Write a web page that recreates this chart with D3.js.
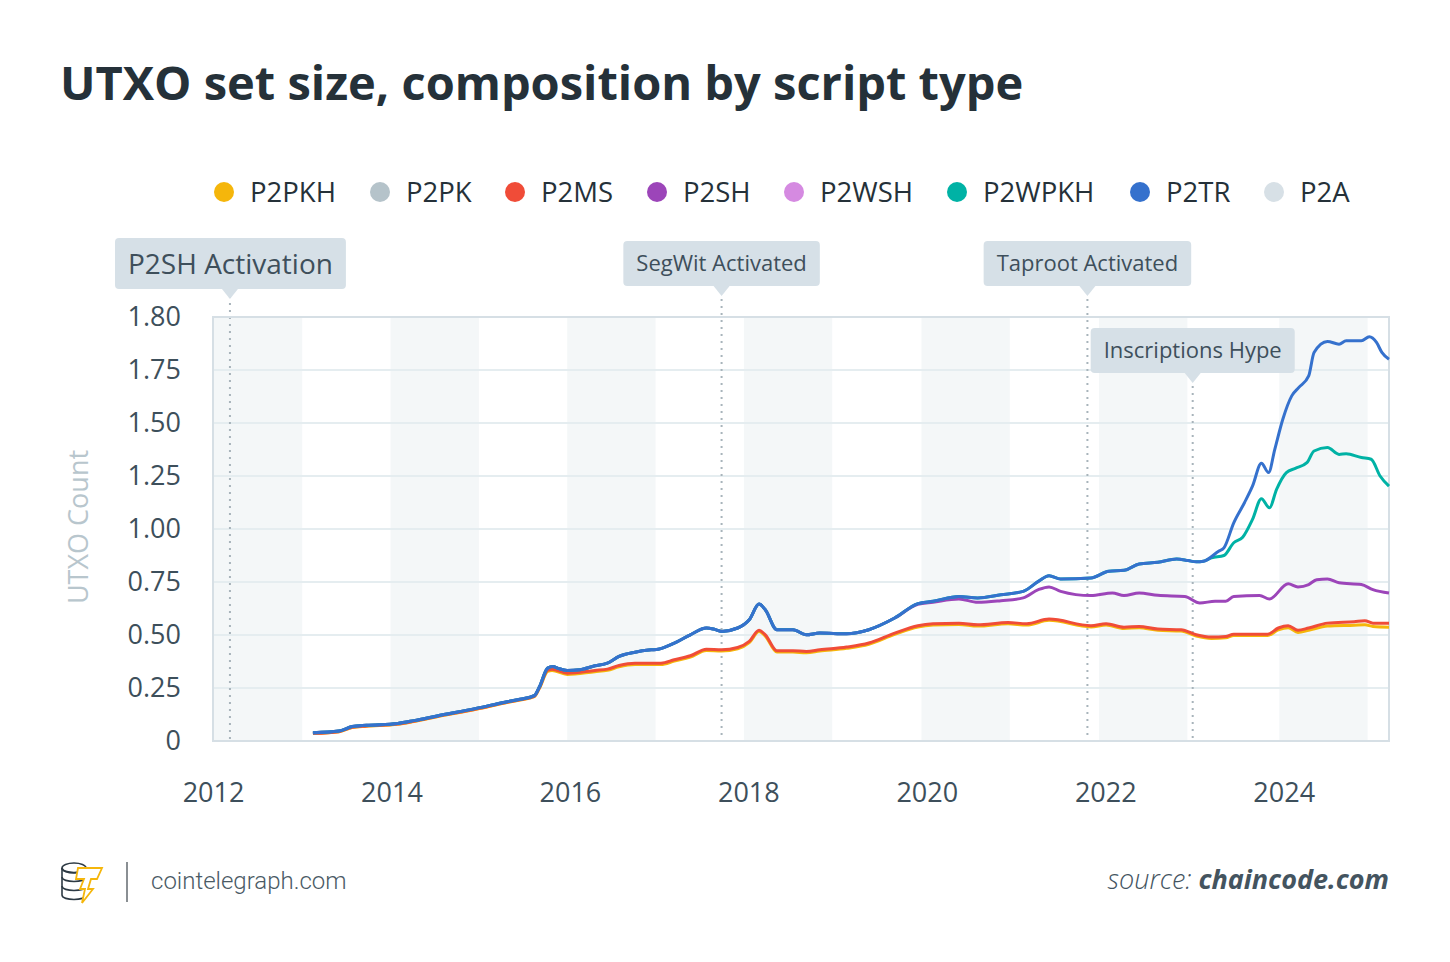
<!DOCTYPE html>
<html>
<head>
<meta charset="utf-8">
<script src="https://cdn.jsdelivr.net/npm/d3@7"></script>
<style>
  body { margin: 0; background: #fff; }
  svg { display: block; font-family: "Open Sans", sans-serif; }
</style>
</head>
<body>
<svg id="chart" width="1450" height="962"></svg>
<script>
// series names + colours (legend order)
const seriesNames = ["P2PKH", "P2PK", "P2MS", "P2SH", "P2WSH", "P2WPKH", "P2TR", "P2A"];
const seriesColors = ["#f5b60b", "#b5c3ca", "#f04c38", "#9c45b9", "#d58ae1", "#00b2a5", "#3571cd", "#d7e0e6"];

// cumulative UTXO counts (hundreds of millions), [decimal year, value]
const p2pkh = [[2013.12,0.035],[2013.41,0.043],[2013.56,0.064],[2013.72,0.070],[2014.07,0.079],[2014.25,0.092],[2014.51,0.114],[2014.96,0.151],[2015.27,0.179],[2015.44,0.193],[2015.60,0.209],[2015.66,0.250],[2015.75,0.328],[2015.80,0.333],[2015.97,0.314],[2016.28,0.327],[2016.42,0.333],[2016.55,0.350],[2016.73,0.361],[2017.02,0.361],[2017.17,0.377],[2017.35,0.396],[2017.53,0.427],[2017.70,0.424],[2017.88,0.435],[2018.01,0.464],[2018.12,0.516],[2018.19,0.495],[2018.32,0.420],[2018.50,0.420],[2018.65,0.416],[2018.80,0.424],[2019.10,0.437],[2019.35,0.456],[2019.64,0.503],[2019.90,0.538],[2020.07,0.547],[2020.36,0.550],[2020.57,0.542],[2020.91,0.553],[2021.12,0.547],[2021.37,0.569],[2021.84,0.538],[2022.01,0.547],[2022.21,0.531],[2022.38,0.534],[2022.59,0.522],[2022.85,0.519],[2023.02,0.495],[2023.19,0.484],[2023.35,0.487],[2023.44,0.498],[2023.82,0.498],[2023.94,0.524],[2024.05,0.534],[2024.16,0.512],[2024.28,0.522],[2024.49,0.542],[2024.79,0.546],[2024.91,0.548],[2025.00,0.540],[2025.18,0.537]];

const p2ms = [[2013.12,0.036],[2013.41,0.044],[2013.56,0.065],[2013.72,0.071],[2014.07,0.080],[2014.25,0.093],[2014.51,0.115],[2014.96,0.152],[2015.27,0.180],[2015.44,0.194],[2015.60,0.210],[2015.66,0.252],[2015.75,0.334],[2015.80,0.339],[2015.97,0.320],[2016.28,0.333],[2016.42,0.339],[2016.55,0.356],[2016.73,0.367],[2017.02,0.367],[2017.17,0.383],[2017.35,0.402],[2017.53,0.433],[2017.70,0.430],[2017.88,0.441],[2018.01,0.470],[2018.12,0.522],[2018.19,0.501],[2018.32,0.426],[2018.50,0.426],[2018.65,0.422],[2018.80,0.430],[2019.10,0.443],[2019.35,0.462],[2019.64,0.509],[2019.90,0.544],[2020.07,0.553],[2020.36,0.556],[2020.57,0.548],[2020.91,0.559],[2021.12,0.553],[2021.37,0.575],[2021.84,0.544],[2022.01,0.553],[2022.21,0.537],[2022.38,0.540],[2022.59,0.528],[2022.85,0.525],[2023.02,0.501],[2023.19,0.490],[2023.35,0.493],[2023.44,0.504],[2023.82,0.504],[2023.94,0.533],[2024.05,0.544],[2024.16,0.522],[2024.28,0.533],[2024.49,0.556],[2024.79,0.563],[2024.91,0.567],[2025.00,0.556],[2025.18,0.556]];

const p2sh = [[2013.12,0.039],[2013.41,0.047],[2013.56,0.068],[2013.72,0.074],[2014.07,0.083],[2014.25,0.096],[2014.51,0.118],[2014.96,0.155],[2015.27,0.183],[2015.44,0.197],[2015.60,0.214],[2015.66,0.257],[2015.75,0.344],[2015.81,0.351],[2015.86,0.344],[2015.97,0.333],[2016.11,0.336],[2016.28,0.355],[2016.42,0.367],[2016.55,0.399],[2016.73,0.419],[2016.91,0.430],[2016.99,0.433],[2017.17,0.462],[2017.35,0.501],[2017.53,0.533],[2017.61,0.528],[2017.70,0.517],[2017.88,0.533],[2018.01,0.572],[2018.12,0.646],[2018.19,0.619],[2018.32,0.525],[2018.50,0.525],[2018.65,0.501],[2018.80,0.509],[2019.10,0.506],[2019.35,0.525],[2019.64,0.580],[2019.90,0.645],[2020.07,0.655],[2020.36,0.670],[2020.57,0.654],[2020.83,0.662],[2021.08,0.675],[2021.25,0.714],[2021.37,0.727],[2021.50,0.706],[2021.84,0.686],[2022.08,0.698],[2022.21,0.686],[2022.38,0.698],[2022.59,0.687],[2022.89,0.682],[2023.06,0.651],[2023.23,0.659],[2023.35,0.659],[2023.44,0.682],[2023.73,0.686],[2023.84,0.670],[2024.05,0.742],[2024.16,0.727],[2024.28,0.738],[2024.37,0.761],[2024.49,0.764],[2024.62,0.746],[2024.87,0.738],[2025.00,0.714],[2025.18,0.698]];

const p2wpkh = [[2013.12,0.039],[2013.41,0.047],[2013.56,0.068],[2013.72,0.074],[2014.07,0.083],[2014.25,0.096],[2014.51,0.118],[2014.96,0.155],[2015.27,0.183],[2015.44,0.197],[2015.60,0.214],[2015.66,0.257],[2015.75,0.344],[2015.81,0.351],[2015.86,0.344],[2015.97,0.333],[2016.11,0.336],[2016.28,0.355],[2016.42,0.367],[2016.55,0.399],[2016.73,0.419],[2016.91,0.430],[2016.99,0.433],[2017.17,0.462],[2017.35,0.501],[2017.53,0.533],[2017.61,0.528],[2017.70,0.517],[2017.88,0.533],[2018.01,0.572],[2018.12,0.646],[2018.19,0.619],[2018.32,0.525],[2018.50,0.525],[2018.65,0.501],[2018.80,0.509],[2019.10,0.506],[2019.35,0.525],[2019.64,0.580],[2019.90,0.648],[2020.07,0.659],[2020.36,0.682],[2020.57,0.675],[2020.83,0.690],[2021.08,0.706],[2021.25,0.753],[2021.37,0.780],[2021.50,0.764],[2021.84,0.769],[2022.04,0.801],[2022.21,0.805],[2022.38,0.835],[2022.59,0.843],[2022.80,0.859],[2022.93,0.851],[2023.02,0.845],[2023.10,0.848],[2023.19,0.864],[2023.33,0.875],[2023.44,0.935],[2023.54,0.961],[2023.65,1.045],[2023.75,1.143],[2023.84,1.100],[2023.92,1.187],[2024.03,1.266],[2024.13,1.286],[2024.26,1.313],[2024.34,1.368],[2024.49,1.384],[2024.62,1.352],[2024.70,1.355],[2024.87,1.337],[2024.98,1.329],[2025.08,1.250],[2025.18,1.202]];

const p2tr = [[2013.12,0.039],[2013.41,0.047],[2013.56,0.068],[2013.72,0.074],[2014.07,0.083],[2014.25,0.096],[2014.51,0.118],[2014.96,0.155],[2015.27,0.183],[2015.44,0.197],[2015.60,0.214],[2015.66,0.257],[2015.75,0.344],[2015.81,0.351],[2015.86,0.344],[2015.97,0.333],[2016.11,0.336],[2016.28,0.355],[2016.42,0.367],[2016.55,0.399],[2016.73,0.419],[2016.91,0.430],[2016.99,0.433],[2017.17,0.462],[2017.35,0.501],[2017.53,0.533],[2017.61,0.528],[2017.70,0.517],[2017.88,0.533],[2018.01,0.572],[2018.12,0.646],[2018.19,0.619],[2018.32,0.525],[2018.50,0.525],[2018.65,0.501],[2018.80,0.509],[2019.10,0.506],[2019.35,0.525],[2019.64,0.580],[2019.90,0.648],[2020.07,0.659],[2020.36,0.682],[2020.57,0.675],[2020.83,0.690],[2021.08,0.706],[2021.25,0.753],[2021.37,0.780],[2021.50,0.764],[2021.84,0.769],[2022.04,0.801],[2022.21,0.805],[2022.38,0.835],[2022.59,0.843],[2022.80,0.859],[2022.93,0.851],[2023.02,0.845],[2023.10,0.848],[2023.27,0.895],[2023.33,0.911],[2023.44,1.029],[2023.56,1.124],[2023.65,1.202],[2023.75,1.310],[2023.83,1.266],[2023.90,1.376],[2023.99,1.518],[2024.09,1.628],[2024.17,1.668],[2024.28,1.722],[2024.34,1.833],[2024.49,1.885],[2024.62,1.872],[2024.70,1.888],[2024.87,1.888],[2024.96,1.907],[2025.04,1.880],[2025.10,1.833],[2025.18,1.801]];

// drawn bottom to top
const lines = [
  { name: "P2PKH", values: p2pkh },
  { name: "P2MS", values: p2ms },
  { name: "P2SH", values: p2sh },
  { name: "P2WPKH", values: p2wpkh },
  { name: "P2TR", values: p2tr }
];

const yTicks = [0, 0.25, 0.5, 0.75, 1, 1.25, 1.5, 1.75, 2];
const yTickLabels = ["0", "0.25", "0.50", "0.75", "1.00", "1.25", "1.50", "1.75", "1.80"];
const xTicks = [2012, 2014, 2016, 2018, 2020, 2022, 2024];
// shaded year bands [start, end]
const bands = [[2012, 2013], [2013.99, 2014.98], [2015.97, 2016.96], [2017.95, 2018.94], [2019.94, 2020.93], [2021.93, 2022.92], [2023.95, 2024.94]];

const events = [
  { year: 2012.19, label: "P2SH Activation", boxTop: 238, size: 28 },
  { year: 2017.70, label: "SegWit Activated", boxTop: 241, size: 22 },
  { year: 2021.80, label: "Taproot Activated", boxTop: 241, size: 22 },
  { year: 2022.98, label: "Inscriptions Hype", boxTop: 328, size: 22 }
];

const svg = d3.select("#chart");
const pLeft = 213, pRight = 1389, pTop = 317, pBottom = 741;

const x = d3.scaleLinear().domain([2012, 2025.18]).range([pLeft, pRight]);
const y = d3.scaleLinear().domain([0, 2]).range([pBottom, pTop]);
const color = d3.scaleOrdinal().domain(seriesNames).range(seriesColors);

// title
svg.append("text")
  .attr("x", 60).attr("y", 100)
  .attr("font-size", 47).attr("font-weight", 700)
  .attr("fill", "#253139")
  .text("UTXO set size, composition by script type");

// legend
const legendX = [224, 380, 515, 657, 794, 957, 1140, 1274];
const legend = svg.append("g").selectAll("g")
  .data(seriesNames)
  .join("g")
  .attr("transform", (d, i) => `translate(${legendX[i]},192)`);
legend.append("circle").attr("r", 10).attr("fill", d => color(d));
legend.append("text")
  .attr("x", 26).attr("y", 10)
  .attr("font-size", 27.5).attr("fill", "#253139")
  .text(d => d);

// plot background bands
svg.append("g").selectAll("rect")
  .data(bands)
  .join("rect")
  .attr("x", d => x(d[0]))
  .attr("y", pTop)
  .attr("width", d => x(d[1]) - x(d[0]))
  .attr("height", pBottom - pTop)
  .attr("fill", "#f4f7f8");

// horizontal grid
svg.append("g").selectAll("line")
  .data(yTicks.slice(1, -1))
  .join("line")
  .attr("x1", pLeft).attr("x2", pRight)
  .attr("y1", d => y(d)).attr("y2", d => y(d))
  .attr("stroke", "#e5edf0").attr("stroke-width", 2);

// event lines
svg.append("g").selectAll("line")
  .data(events)
  .join("line")
  .attr("x1", d => x(d.year)).attr("x2", d => x(d.year))
  .attr("y1", d => d.boxTop + 58).attr("y2", pBottom)
  .attr("stroke", "#a8b4bb").attr("stroke-width", 2)
  .attr("stroke-dasharray", "2,5");

// plot frame
svg.append("rect")
  .attr("x", pLeft).attr("y", pTop)
  .attr("width", pRight - pLeft).attr("height", pBottom - pTop)
  .attr("fill", "none").attr("stroke", "#d6dfe5").attr("stroke-width", 2);

// series lines
const line = d3.line()
  .x(d => x(d[0]))
  .y(d => y(d[1]))
  .curve(d3.curveMonotoneX);

svg.append("g").selectAll("path")
  .data(lines)
  .join("path")
  .attr("d", d => line(d.values))
  .attr("fill", "none")
  .attr("stroke", d => color(d.name))
  .attr("stroke-width", 3)
  .attr("stroke-linejoin", "round");

// y axis
const yAxis = svg.append("g")
  .attr("transform", `translate(${pLeft - 32},0)`)
  .call(d3.axisLeft(y).tickValues(yTicks).tickFormat((d, i) => yTickLabels[i]).tickSize(0).tickPadding(0));
yAxis.select(".domain").remove();
yAxis.selectAll("text")
  .attr("font-family", "Open Sans").attr("font-size", 27).attr("fill", "#3d4f5b");

svg.append("text")
  .attr("transform", `translate(88,527) rotate(-90)`)
  .attr("text-anchor", "middle")
  .attr("font-size", 27).attr("fill", "#b8c6cd")
  .text("UTXO Count");

// x axis
const xAxis = svg.append("g")
  .attr("transform", `translate(0,${pBottom + 32})`)
  .call(d3.axisBottom(x).tickValues(xTicks).tickFormat(d3.format("d")).tickSize(0).tickPadding(10));
xAxis.select(".domain").remove();
xAxis.selectAll("text")
  .attr("font-family", "Open Sans").attr("font-size", 27).attr("fill", "#3d4f5b");

// annotation callouts
const notes = svg.append("g").selectAll("g")
  .data(events)
  .join("g");
notes.each(function(d) {
  const g = d3.select(this);
  const cx = x(d.year);
  const t = g.append("text")
    .attr("font-size", d.size).attr("fill", "#3e4f5b")
    .attr("text-anchor", "middle")
    .text(d.label);
  const w = t.node().getComputedTextLength() + 26;
  const h = d.size === 28 ? 51 : 45;
  let bx = cx - w / 2;
  if (d.label === "P2SH Activation") bx = 115;
  g.insert("rect", "text")
    .attr("x", bx).attr("y", d.boxTop)
    .attr("width", w).attr("height", h)
    .attr("rx", 4).attr("fill", "#d6e0e7");
  g.insert("path", "text")
    .attr("d", `M${cx - 8},${d.boxTop + h} L${cx},${d.boxTop + h + 10} L${cx + 8},${d.boxTop + h} Z`)
    .attr("fill", "#d6e0e7");
  t.attr("x", bx + w / 2).attr("y", d.boxTop + h / 2 + d.size * 0.36);
});

// footer: logo
const logo = svg.append("g").attr("transform", "translate(60,862)")
  .attr("fill", "none").attr("stroke", "#2d3a44").attr("stroke-width", 1.6);
[0, 9, 18, 27].forEach(dy => {
  logo.append("path").attr("d", `M2,${dy + 6} C2,${dy + 12} 26,${dy + 12} 26,${dy + 6}`);
});
logo.append("ellipse").attr("cx", 14).attr("cy", 6).attr("rx", 12).attr("ry", 5);
logo.append("line").attr("x1", 2).attr("y1", 6).attr("x2", 2).attr("y2", 33);
logo.append("path")
  .attr("stroke", "#f5b60b").attr("fill", "#fff").attr("stroke-width", 1.8)
  .attr("d", "M18,6 L42,6 L37,17 L31,17 L28,27 L33,27 L22,41 L25,27 L20,27 L24,17 L16,17 Z");

svg.append("line")
  .attr("x1", 127).attr("x2", 127).attr("y1", 862).attr("y2", 902)
  .attr("stroke", "#8a8f93").attr("stroke-width", 2);

svg.append("text")
  .attr("x", 151).attr("y", 889)
  .attr("font-family", "Roboto").attr("font-weight", 300)
  .attr("font-size", 24).attr("fill", "#4a5a65")
  .text("cointelegraph.com");

const src = svg.append("text")
  .attr("x", pRight).attr("y", 889)
  .attr("text-anchor", "end")
  .attr("font-size", 27).attr("font-style", "italic").attr("fill", "#44545f");
src.append("tspan").attr("font-weight", 300).text("source: ");
src.append("tspan").attr("font-weight", 700).text("chaincode.com");
</script>
</body>
</html>
